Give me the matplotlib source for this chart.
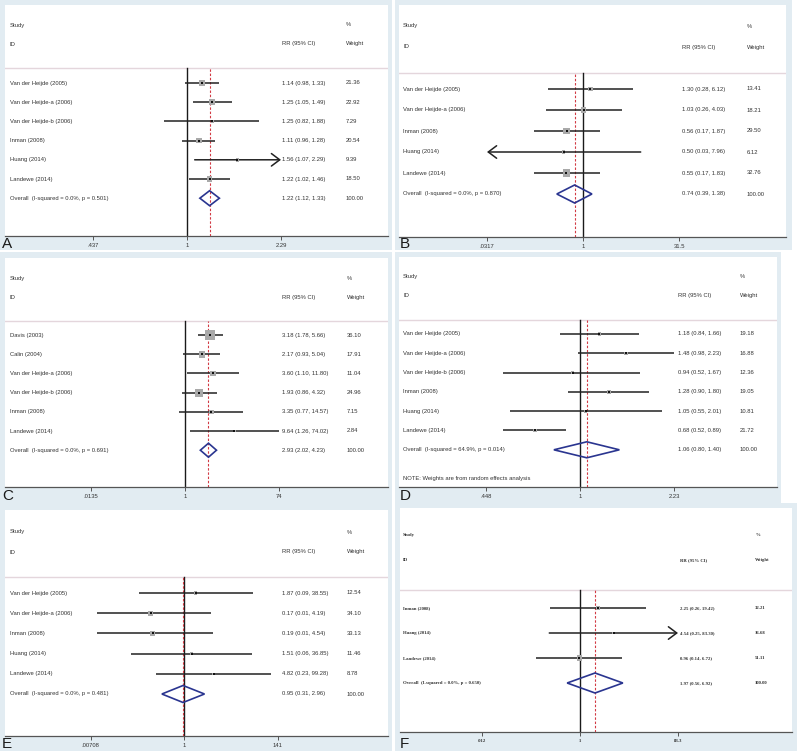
import numpy as np
import matplotlib
matplotlib.use("Agg")
import matplotlib.pyplot as plt
from matplotlib.patches import Rectangle, Polygon
from matplotlib.transforms import blended_transform_factory
from matplotlib.ticker import NullLocator

plt.rcParams['font.family'] = ['Liberation Sans', 'DejaVu Sans']

W, H = 800, 751

# ---------------- data ----------------
total_weight = 100.00

# Panel A
a_study = ["Van der Heijde (2005)", "Van der Heijde-a (2006)", "Van der Heijde-b (2006)",
           "Inman (2008)", "Huang (2014)", "Landewe (2014)"]
a_rr = [1.14, 1.25, 1.25, 1.11, 1.56, 1.22]
a_lo = [0.98, 1.05, 0.82, 0.96, 1.07, 1.02]
a_hi = [1.33, 1.49, 1.88, 1.28, 2.29, 1.46]
a_wt = [21.36, 22.92, 7.29, 20.54, 9.39, 18.50]
a_overall = [1.22, 1.12, 1.33]
a_het = "Overall  (I-squared = 0.0%, p = 0.501)"
a_tick_lo = 0.437
a_tick_labels = [".437", "1", "2.29"]

# Panel B
b_study = ["Van der Heijde (2005)", "Van der Heijde-a (2006)", "Inman (2008)",
           "Huang (2014)", "Landewe (2014)"]
b_rr = [1.30, 1.03, 0.56, 0.50, 0.55]
b_lo = [0.28, 0.26, 0.17, 0.03, 0.17]
b_hi = [6.12, 4.03, 1.87, 7.96, 1.83]
b_wt = [13.41, 18.21, 29.50, 6.12, 32.76]
b_overall = [0.74, 0.39, 1.38]
b_het = "Overall  (I-squared = 0.0%, p = 0.870)"
b_tick_lo = 0.0317
b_tick_labels = [".0317", "1", "31.5"]

# Panel C
c_study = ["Davis (2003)", "Calin (2004)", "Van der Heijde-a (2006)",
           "Van der Heijde-b (2006)", "Inman (2008)", "Landewe (2014)"]
c_rr = [3.18, 2.17, 3.60, 1.93, 3.35, 9.64]
c_lo = [1.78, 0.93, 1.10, 0.86, 0.77, 1.26]
c_hi = [5.66, 5.04, 11.80, 4.32, 14.57, 74.02]
c_wt = [36.10, 17.91, 11.04, 24.96, 7.15, 2.84]
c_overall = [2.93, 2.02, 4.23]
c_het = "Overall  (I-squared = 0.0%, p = 0.691)"
c_tick_lo = 0.0135
c_tick_labels = [".0135", "1", "74"]

# Panel D
d_study = ["Van der Heijde (2005)", "Van der Heijde-a (2006)", "Van der Heijde-b (2006)",
           "Inman (2008)", "Huang (2014)", "Landewe (2014)"]
d_rr = [1.18, 1.48, 0.94, 1.28, 1.05, 0.68]
d_lo = [0.84, 0.98, 0.52, 0.90, 0.55, 0.52]
d_hi = [1.66, 2.23, 1.67, 1.80, 2.01, 0.89]
d_wt = [19.18, 16.88, 12.36, 19.05, 10.81, 21.72]
d_overall = [1.06, 0.80, 1.40]
d_het = "Overall  (I-squared = 64.9%, p = 0.014)"
d_note = "NOTE: Weights are from random effects analysis"
d_tick_lo = 0.448
d_tick_labels = [".448", "1", "2.23"]

# Panel E
e_study = ["Van der Heijde (2005)", "Van der Heijde-a (2006)", "Inman (2008)",
           "Huang (2014)", "Landewe (2014)"]
e_rr = [1.87, 0.17, 0.19, 1.51, 4.82]
e_lo = [0.09, 0.01, 0.01, 0.06, 0.23]
e_hi = [38.55, 4.19, 4.54, 36.85, 99.28]
e_wt = [12.54, 34.10, 33.13, 11.46, 8.78]
e_overall = [0.95, 0.31, 2.96]
e_het = "Overall  (I-squared = 0.0%, p = 0.481)"
e_tick_lo = 0.00708
e_tick_labels = [".00708", "1", "141"]

# Panel F
f_study = ["Inman (2008)", "Huang (2014)", "Landewe (2014)"]
f_rr = [2.25, 4.54, 0.96]
f_lo = [0.26, 0.25, 0.14]
f_hi = [19.42, 83.30, 6.72]
f_wt = [32.21, 16.68, 51.11]
f_overall = [1.97, 0.56, 6.92]
f_het = "Overall  (I-squared = 0.0%, p = 0.650)"
f_tick_lo = 0.01201
f_tick_labels = [".012", "1", "83.3"]

# ---------------- styling / layout (pixels) ----------------
BLUE = '#e2ecf2'
TXT = '#333333'
GRAY_BOX = '#a9a9a9'
NAVY = '#2a3590'
RED = '#d23a44'

fig = plt.figure(figsize=(W / 100, H / 100), dpi=100)
fig.patch.set_facecolor('white')


def draw_panel(study, rr, lo, hi, wt, overall, het, tick_lo, tick_labels, L,
               letter, note=None, family='Liberation Sans', fs=4.2, weight='normal'):
    ox0, oy0, ox1, oy1 = L['outer']
    fig.add_artist(Rectangle((ox0 / W, 1 - oy1 / H), (ox1 - ox0) / W, (oy1 - oy0) / H,
                             transform=fig.transFigure, facecolor=BLUE,
                             edgecolor='none', zorder=0))
    x0, y0, x1, y1 = L['white']
    ax = fig.add_axes([x0 / W, 1 - y1 / H, (x1 - x0) / W, (y1 - y0) / H])
    ax.set_facecolor('white')
    k = -np.log(tick_lo) / L['step_px']
    ax.set_xscale('log')
    ax.set_xlim(np.exp((x0 - L['one_px']) * k), np.exp((x1 - L['one_px']) * k))

    def r_of(py):
        return 1 + (py - L['row1_y']) / L['dy']

    ax.set_ylim(r_of(y1), r_of(y0))
    trans = blended_transform_factory(ax.transAxes, ax.transData)

    def fx(px):
        return (px - x0) / (x1 - x0)

    tkw = dict(transform=trans, fontsize=fs, va='center', ha='left', color=TXT,
               family=family, fontweight=weight)

    # headers
    ax.text(fx(L['name_x']), r_of(L['study_y']), 'Study', **tkw)
    ax.text(fx(L['name_x']), r_of(L['id_y']), 'ID', **tkw)
    ax.text(fx(L['rr_x']), r_of(L['id_y']), 'RR (95% CI)', **tkw)
    ax.text(fx(L['wt_x']), r_of(L['study_y']), '%', **tkw)
    ax.text(fx(L['wt_x']), r_of(L['id_y']), 'Weight', **tkw)
    ax.axhline(r_of(L['sep_y']), color='#e4d6dc', lw=1.0, zorder=1)

    n = len(study)
    rows = np.arange(1, n + 1)
    tmin, tmax = tick_lo, 1 / tick_lo
    rr = np.array(rr); lo = np.array(lo); hi = np.array(hi); wt = np.array(wt)

    # reference lines
    frac = (y1 - L['sep_y']) / (y1 - y0)
    ax.axvline(1, ymin=0, ymax=frac, color='#1a1a1a', lw=1.0, zorder=2)
    ax.axvline(overall[0], ymin=0, ymax=frac, color=RED, lw=0.8,
               ls=(0, (2.2, 1.6)), zorder=2)

    # CI lines / arrows
    for r, l, h in zip(rows, lo, hi):
        lc, hc = max(l, tmin), min(h, tmax)
        if h > tmax:
            ax.annotate('', xy=(tmax, r), xytext=(lc, r),
                        arrowprops=dict(arrowstyle='->,head_length=0.6,head_width=0.45',
                                        lw=1.1, color='#222222', shrinkA=0, shrinkB=0),
                        zorder=3)
        elif l < tmin:
            ax.annotate('', xy=(tmin, r), xytext=(hc, r),
                        arrowprops=dict(arrowstyle='->,head_length=0.6,head_width=0.45',
                                        lw=1.1, color='#222222', shrinkA=0, shrinkB=0),
                        zorder=3)
        else:
            ax.hlines(r, lc, hc, color='#222222', lw=1.1, zorder=3)

    # weight boxes + point estimate
    ax.scatter(rr, rows, s=(L['box_k'] * np.sqrt(wt) * 0.72) ** 2, marker='s',
               color=GRAY_BOX, linewidths=0, zorder=4)
    ax.scatter(rr, rows, s=4.5, marker='s', color='#111111', linewidths=0, zorder=5)

    # overall diamond
    ro = n + 1
    hd = L['dia_h'] / L['dy']
    ax.add_patch(Polygon([(overall[1], ro), (overall[0], ro - hd),
                          (overall[2], ro), (overall[0], ro + hd)],
                         closed=True, fill=False, ec=NAVY, lw=1.2, zorder=5))

    # text columns
    for r, s_, v, l, h, w_ in zip(rows, study, rr, lo, hi, wt):
        ax.text(fx(L['name_x']), r, s_, **tkw)
        ax.text(fx(L['rr_x']), r, f"{v:.2f} ({l:.2f}, {h:.2f})", **tkw)
        ax.text(fx(L['wt_x']), r, f"{w_:.2f}", **tkw)
    ax.text(fx(L['name_x']), ro, het, **tkw)
    ax.text(fx(L['rr_x']), ro, f"{overall[0]:.2f} ({overall[1]:.2f}, {overall[2]:.2f})", **tkw)
    ax.text(fx(L['wt_x']), ro, f"{total_weight:.2f}", **tkw)
    if note is not None:
        ax.text(fx(L['name_x']), r_of(L['note_y']), note, **tkw)

    # axis
    for sp in ['top', 'left', 'right']:
        ax.spines[sp].set_visible(False)
    ax.spines['bottom'].set_color('#555555')
    ax.spines['bottom'].set_linewidth(0.9)
    ax.set_yticks([])
    ax.set_xticks([tmin, 1, tmax])
    ax.set_xticklabels(tick_labels, family=family, fontweight=weight)
    ax.xaxis.set_minor_locator(NullLocator())
    ax.tick_params(axis='x', length=3, width=0.7, color='#555555', labelsize=fs,
                   labelcolor=TXT, pad=2)

    lx, ly = L['letter']
    fig.text(lx / W, 1 - ly / H, letter, fontsize=11, color='#1a1a1a',
             ha='left', va='baseline', family='Liberation Sans')


LA = dict(outer=(0, 0, 392, 250), white=(5, 5, 388, 236), one_px=187, step_px=94,
          name_x=10, rr_x=282, wt_x=346, study_y=25, id_y=44, sep_y=68, row1_y=83,
          dy=19.2, box_k=1.25, dia_h=7.5, letter=(2, 248))
LB = dict(outer=(395, 0, 792, 250), white=(399, 5, 786, 237), one_px=583, step_px=96,
          name_x=403, rr_x=682, wt_x=747, study_y=26, id_y=47, sep_y=73, row1_y=89,
          dy=21, box_k=1.25, dia_h=9, letter=(400, 248))
LC = dict(outer=(0, 252, 392, 507), white=(5, 258, 388, 487), one_px=185, step_px=94,
          name_x=10, rr_x=282, wt_x=347, study_y=278, id_y=297, sep_y=321, row1_y=335,
          dy=19.2, box_k=1.6, dia_h=7, letter=(2, 500))
LD = dict(outer=(395, 252, 781, 505), white=(399, 257, 777, 487), one_px=580, step_px=94,
          name_x=403, rr_x=678, wt_x=740, study_y=277, id_y=296, sep_y=320, row1_y=334,
          dy=19.3, box_k=0.8, dia_h=8, note_y=479, letter=(400, 500))
LE = dict(outer=(0, 505, 392, 751), white=(5, 510, 388, 736), one_px=184, step_px=93.5,
          name_x=10, rr_x=282, wt_x=347, study_y=532, id_y=552, sep_y=577, row1_y=593,
          dy=20.2, box_k=0.86, dia_h=8.5, letter=(2, 748))
LF = dict(outer=(395, 503, 797, 751), white=(400, 508, 792, 732), one_px=580, step_px=98,
          name_x=403, rr_x=680, wt_x=755, study_y=535, id_y=560, sep_y=590, row1_y=608,
          dy=25, box_k=0.7, dia_h=10, letter=(400, 748))

draw_panel(a_study, a_rr, a_lo, a_hi, a_wt, a_overall, a_het, a_tick_lo, a_tick_labels, LA, 'A')
draw_panel(b_study, b_rr, b_lo, b_hi, b_wt, b_overall, b_het, b_tick_lo, b_tick_labels, LB, 'B')
draw_panel(c_study, c_rr, c_lo, c_hi, c_wt, c_overall, c_het, c_tick_lo, c_tick_labels, LC, 'C')
draw_panel(d_study, d_rr, d_lo, d_hi, d_wt, d_overall, d_het, d_tick_lo, d_tick_labels, LD, 'D',
           note=d_note)
draw_panel(e_study, e_rr, e_lo, e_hi, e_wt, e_overall, e_het, e_tick_lo, e_tick_labels, LE, 'E')
draw_panel(f_study, f_rr, f_lo, f_hi, f_wt, f_overall, f_het, f_tick_lo, f_tick_labels, LF, 'F',
           family='Liberation Serif', fs=3.4, weight='bold')

fig.savefig('out.png', dpi=100, facecolor='white')
